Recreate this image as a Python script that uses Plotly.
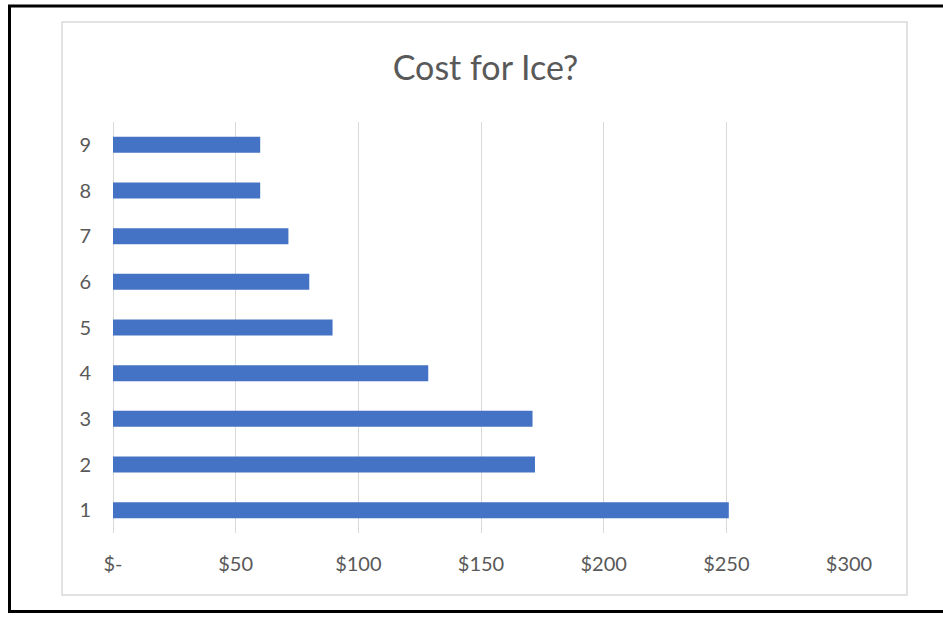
import plotly.graph_objects as go

categories = [1, 2, 3, 4, 5, 6, 7, 8, 9]
costs = [251, 172, 171, 128.5, 89.5, 80, 71.5, 60, 60]
tick_values = [0, 50, 100, 150, 200, 250, 300]
tick_labels = ["$-", "$50", "$100", "$150", "$200", "$250", "$300"]
title_text = "Cost for Ice?"

W, H = 943, 622
ML, MR, MT, MB = 113, 94, 122, 89
PW, PH = W - ML - MR, H - MT - MB


def px2x(px):
    return (px - ML) / PW


def py2y(py):
    return (H - MB - py) / PH


font_family = "Lato, Carlito, Calibri, sans-serif"
text_color = "#595959"
grid_color = "#d9d9d9"

fig = go.Figure(
    go.Bar(
        x=costs,
        y=categories,
        orientation="h",
        width=0.35,
        marker=dict(color="#4472C4", line=dict(width=0)),
        hoverinfo="x+y",
    )
)

fig.update_layout(
    width=W,
    height=H,
    margin=dict(l=ML, r=MR, t=MT, b=MB, pad=0),
    paper_bgcolor="white",
    plot_bgcolor="white",
    showlegend=False,
    title=dict(
        text=title_text,
        font=dict(family=font_family, size=34, color=text_color),
        x=485.5 / W,
        xref="container",
        xanchor="center",
        y=1 - 68 / H,
        yref="container",
        yanchor="middle",
    ),
    font=dict(family=font_family, color=text_color),
)

fig.update_xaxes(
    range=[0, 300],
    tickvals=tick_values,
    ticktext=tick_labels,
    showgrid=True,
    gridcolor=grid_color,
    gridwidth=1,
    zeroline=True,
    zerolinecolor=grid_color,
    zerolinewidth=1,
    showline=False,
    ticks="",
    ticklabelstandoff=17,
    tickfont=dict(family=font_family, size=20, color=text_color),
    fixedrange=True,
)

fig.update_yaxes(
    range=[0.5, 9.5],
    tickvals=categories,
    ticktext=[str(c) for c in categories],
    showgrid=False,
    zeroline=False,
    showline=False,
    ticks="",
    ticklabelstandoff=21,
    tickfont=dict(family=font_family, size=20, color=text_color),
    fixedrange=True,
)

shapes = [
    dict(
        type="rect",
        xref="paper", yref="paper",
        x0=px2x(62), x1=px2x(907), y0=py2y(595), y1=py2y(22),
        line=dict(color=grid_color, width=1.5),
        fillcolor="rgba(0,0,0,0)",
        layer="below",
    ),
    dict(
        type="rect",
        xref="paper", yref="paper",
        x0=px2x(9.5), x1=px2x(960), y0=py2y(611.5), y1=py2y(6),
        line=dict(color="black", width=3),
        fillcolor="rgba(0,0,0,0)",
        layer="above",
    ),
]
fig.update_layout(shapes=shapes)

fig.write_html("out.html")
